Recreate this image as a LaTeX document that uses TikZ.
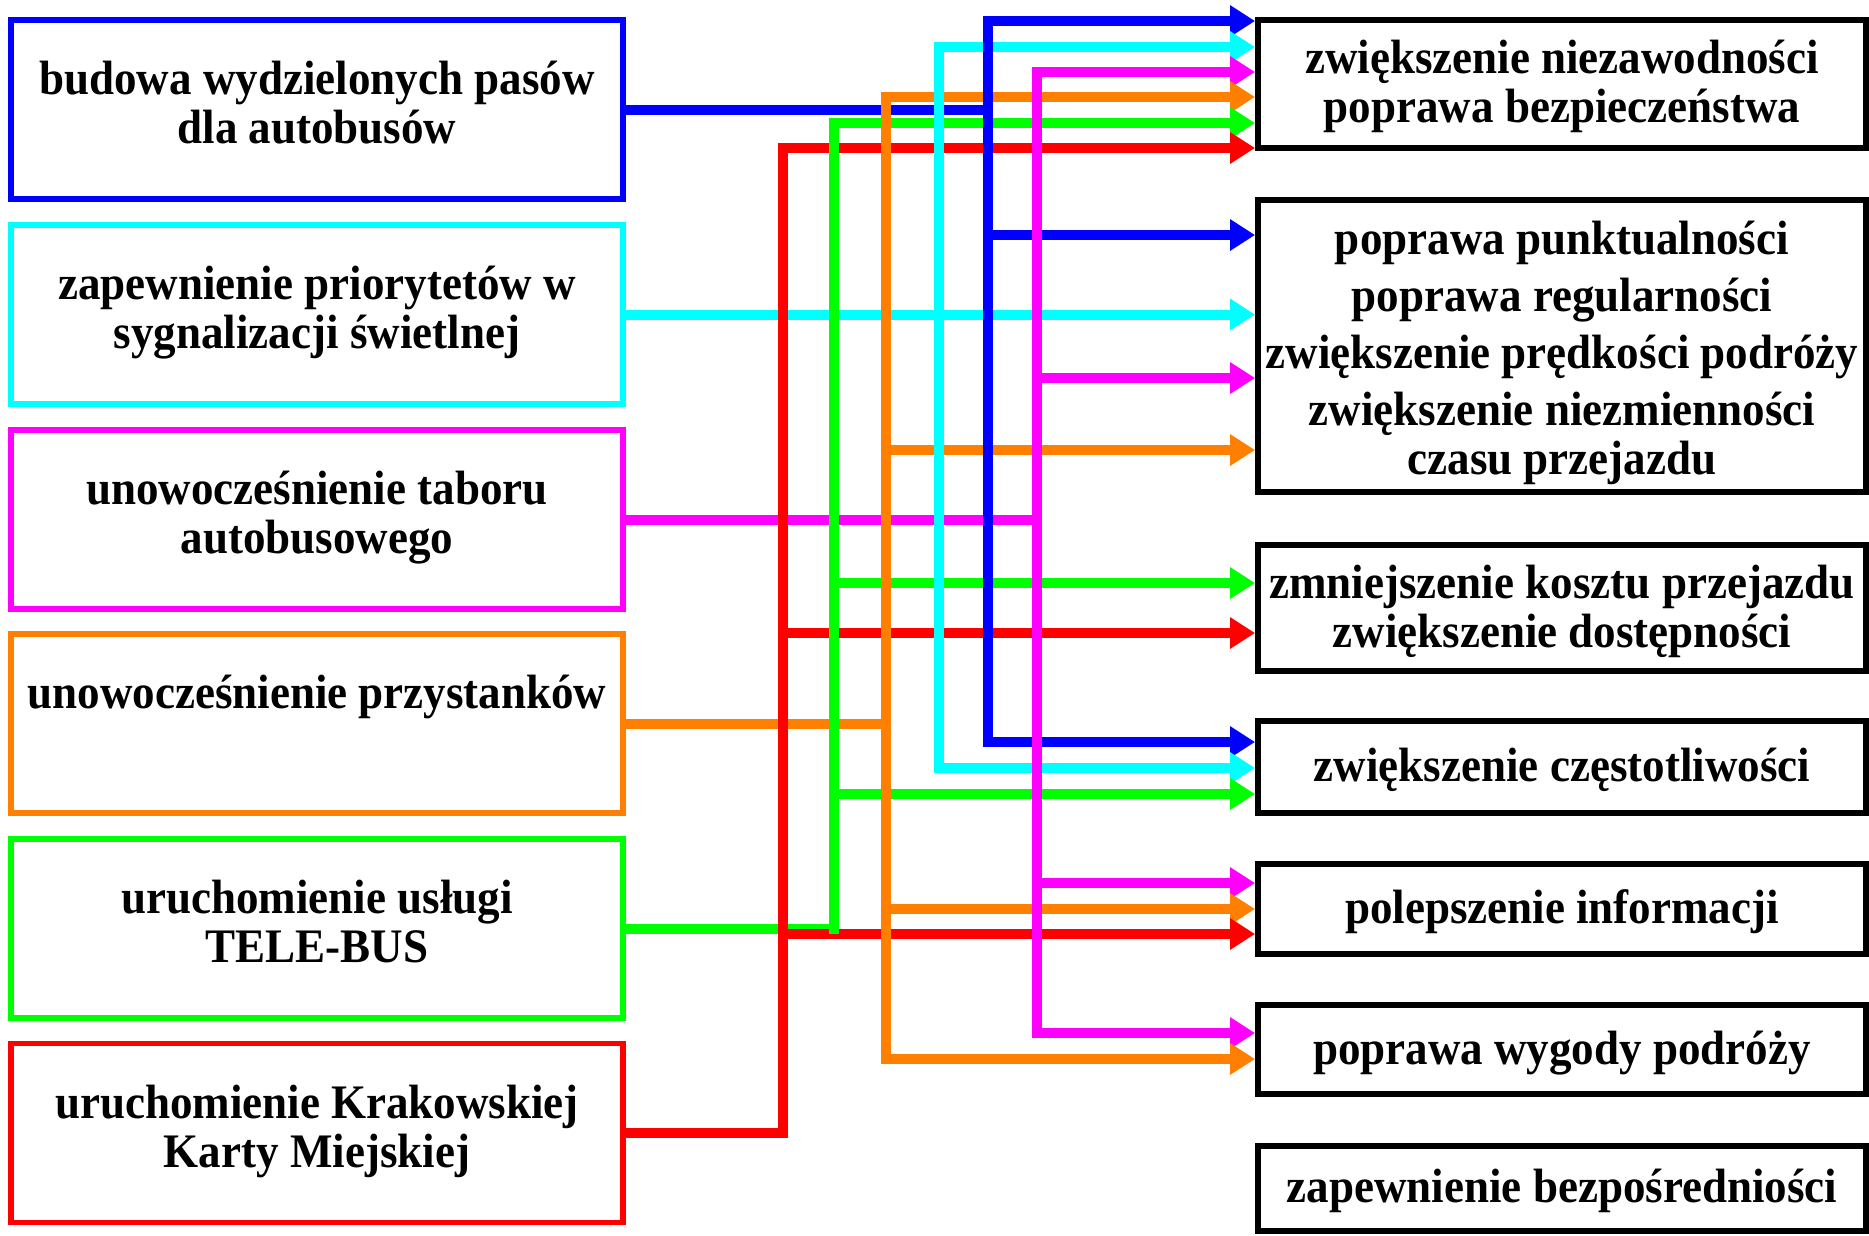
\documentclass[tikz,border=0pt]{standalone}
\usepackage{fontspec}
\setmainfont{Liberation Serif}[FakeStretch=0.935]
\usetikzlibrary{arrows.meta}
\definecolor{cBlue}{RGB}{0,0,255}
\definecolor{cCyan}{RGB}{0,255,255}
\definecolor{cMag}{RGB}{255,0,255}
\definecolor{cOrange}{RGB}{255,128,0}
\definecolor{cGreen}{RGB}{0,255,0}
\definecolor{cRed}{RGB}{255,0,0}
\newcommand\boxfont{\bfseries\fontsize{13.69}{13.9}\selectfont}
\newcommand\topstrut[1]{\rule{0pt}{\dimexpr 0.7\baselineskip+#1\relax}}
\begin{document}
\begin{tikzpicture}[x=0.01cm,y=-0.01cm,
  lbox/.style={draw, line width=0.055cm, minimum width=6.12cm, minimum height=1.79cm, inner sep=0pt, align=center, font=\boxfont},
  rbox/.style={draw=black, line width=0.055cm, minimum width=6.08cm, inner sep=0pt, align=center, font=\boxfont},
  hl/.style={line width=0.1cm},
  arr/.style={line width=0.1cm, -{Triangle[length=0.25cm,width=0.30cm]}},
  trunk/.style={line width=0.1cm, line cap=rect}]
\useasboundingbox (0,0) rectangle (1869,1235);

% left boxes
\node[lbox, draw=cBlue] (L1) at (317,109.5) {\strut budowa wydzielonych pasów\\dla autobusów\strut};
\node[lbox, draw=cCyan] (L2) at (317,314.5) {\strut zapewnienie priorytetów w\\sygnalizacji świetlnej\strut};
\node[lbox, draw=cMag] (L3) at (317,519.5) {\strut unowocześnienie taboru\\autobusowego\strut};
\node[lbox, draw=cOrange] (L4) at (317,723.5) {\strut unowocześnienie przystanków\\\strut};
\node[lbox, draw=cGreen] (L5) at (317,928.5) {\strut uruchomienie usługi\\TELE-BUS\strut};
\node[lbox, draw=cRed] (L6) at (317,1133) {\strut uruchomienie Krakowskiej\\Karty Miejskiej\strut};

% right boxes
\node[rbox, minimum height=1.28cm] (R1) at (1562,84) {\topstrut{0.08cm}zwiększenie niezawodności\\poprawa bezpieczeństwa\strut};
\node[rbox, minimum height=2.92cm] (R2) at (1562,346) {\topstrut{0.17cm}poprawa punktualności\\[2.3pt]poprawa regularności\\[2.3pt]zwiększenie prędkości podróży\\[2.3pt]zwiększenie niezmienności\\czasu przejazdu\strut};
\node[rbox, minimum height=1.26cm] (R3) at (1562,608) {\topstrut{0.1cm}zmniejszenie kosztu przejazdu\\zwiększenie dostępności\strut};
\node[rbox, minimum height=0.92cm] (R4) at (1562,767) {\topstrut{0.1cm}zwiększenie częstotliwości\strut};
\node[rbox, minimum height=0.90cm] (R5) at (1562,909) {\topstrut{0.1cm}polepszenie informacji\strut};
\node[rbox, minimum height=0.89cm] (R6) at (1562,1049.5) {\topstrut{0.1cm}poprawa wygody podróży\strut};
\node[rbox, minimum height=0.85cm] (R7) at (1562,1188.5) {\topstrut{0.08cm}zapewnienie bezpośredniości\strut};

% trunk points
\coordinate (bT) at (988,21);   \coordinate (bJ) at (988,235);  \coordinate (bB) at (988,742);
\coordinate (cT) at (939,47);   \coordinate (cB) at (939,768);
\coordinate (mT) at (1037,72);  \coordinate (mJa) at (1037,378); \coordinate (mJb) at (1037,883); \coordinate (mB) at (1037,1033);
\coordinate (oT) at (886,97);   \coordinate (oJa) at (886,450);  \coordinate (oJb) at (886,909);  \coordinate (oB) at (886,1059);
\coordinate (gT) at (834,123);  \coordinate (gJa) at (834,583);  \coordinate (gJb) at (834,794);
\coordinate (rT) at (783,148);  \coordinate (rJa) at (783,633);  \coordinate (rJb) at (783,934);

% horizontals: blue
\draw[hl,cBlue] (L1.east) -- (L1.east -| bT);
\draw[arr,cBlue] (bT) -- (bT -| R1.west);
\draw[arr,cBlue] (bJ) -- (bJ -| R2.west);
\draw[arr,cBlue] (bB) -- (bB -| R4.west);
% cyan
\draw[hl,cCyan] (L2.east) -- (L2.east -| cT);
\draw[arr,cCyan] (cT) -- (cT -| R1.west);
\draw[arr,cCyan] (L2.east -| cT) -- (L2.east -| R2.west);
\draw[arr,cCyan] (cB) -- (cB -| R4.west);
% magenta
\draw[hl,cMag] (L3.east) -- (L3.east -| mT);
\draw[arr,cMag] (mT) -- (mT -| R1.west);
\draw[arr,cMag] (mJa) -- (mJa -| R2.west);
\draw[arr,cMag] (mJb) -- (mJb -| R5.west);
\draw[arr,cMag] (mB) -- (mB -| R6.west);
% orange
\draw[hl,cOrange] (L4.east) -- (L4.east -| oT);
\draw[arr,cOrange] (oT) -- (oT -| R1.west);
\draw[arr,cOrange] (oJa) -- (oJa -| R2.west);
\draw[arr,cOrange] (oJb) -- (oJb -| R5.west);
\draw[arr,cOrange] (oB) -- (oB -| R6.west);
% green
\draw[hl,cGreen] (L5.east) -- (L5.east -| gT);
\draw[arr,cGreen] (gT) -- (gT -| R1.west);
\draw[arr,cGreen] (gJa) -- (gJa -| R3.west);
\draw[arr,cGreen] (gJb) -- (gJb -| R4.west);
% red
\draw[hl,cRed] (L6.east) -- (L6.east -| rT);
\draw[arr,cRed] (rT) -- (rT -| R1.west);
\draw[arr,cRed] (rJa) -- (rJa -| R3.west);
\draw[arr,cRed] (rJb) -- (rJb -| R5.west);

% verticals (on top)
\draw[trunk,cRed] (rT) -- (L6.east -| rT);
\draw[trunk,cGreen] (gT) -- (L5.east -| gT);
\draw[trunk,cOrange] (oT) -- (oB);
\draw[trunk,cCyan] (cT) -- (cB);
\draw[trunk,cBlue] (bT) -- (bB);
\draw[trunk,cMag] (mT) -- (mB);
\end{tikzpicture}
\end{document}
